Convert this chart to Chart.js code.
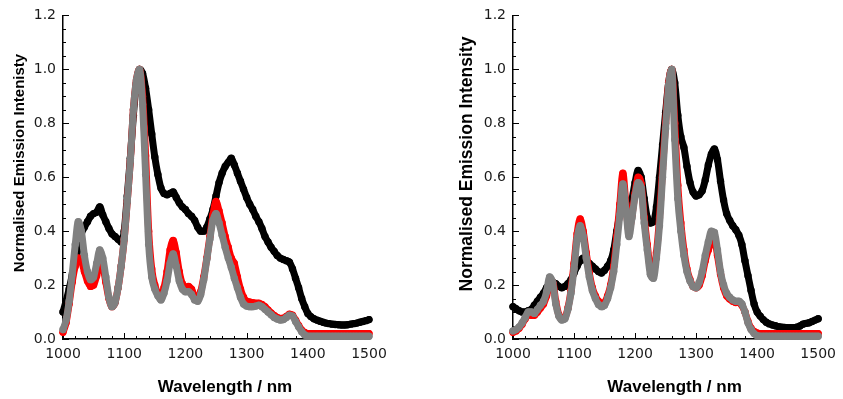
<!DOCTYPE html>
<html><head><meta charset="utf-8">
<script src="https://cdn.jsdelivr.net/npm/chart.js@4"></script>
<style>
html,body{margin:0;padding:0;background:#fff;}
#wrap{position:relative;width:843px;height:399px;overflow:hidden;background:#fff;}
canvas{position:absolute;top:0;}
</style></head><body>
<div id="wrap">
<canvas id="left" width="421" height="399" style="left:0"></canvas>
<canvas id="right" width="422" height="399" style="left:421px"></canvas>
</div>
<script>
// ---------- data ----------
const wavelengths = [1000,1005,1010,1015,1020,1025,1030,1035,1040,1045,1050,1055,1060,1065,1070,1075,1080,1085,1090,1095,
1100,1105,1110,1115,1120,1125,1130,1135,1140,1145,1150,1155,1160,1165,1170,1175,1180,1185,1190,1195,
1200,1205,1210,1215,1220,1225,1230,1235,1240,1245,1250,1255,1260,1265,1270,1275,1280,1285,1290,1295,
1300,1305,1310,1315,1320,1325,1330,1335,1340,1345,1350,1355,1360,1365,1370,1375,1380,1385,1390,1395,
1400,1405,1410,1415,1420,1425,1430,1435,1440,1445,1450,1455,1460,1465,1470,1475,1480,1485,1490,1495,1500];

// left panel
const leftBlack = [0.100,0.140,0.185,0.235,0.280,0.340,0.390,0.415,0.435,0.455,0.465,0.470,0.490,0.460,0.435,0.410,0.390,0.380,0.370,0.360,
0.400,0.530,0.670,0.830,0.950,1.000,0.985,0.930,0.850,0.760,0.675,0.610,0.560,0.540,0.535,0.540,0.545,0.525,0.505,0.490,
0.480,0.465,0.455,0.440,0.415,0.400,0.400,0.415,0.445,0.480,0.530,0.580,0.615,0.640,0.655,0.670,0.645,0.615,0.585,0.555,
0.525,0.500,0.480,0.455,0.435,0.410,0.380,0.360,0.340,0.325,0.310,0.300,0.295,0.290,0.285,0.260,0.225,0.190,0.150,0.120,
0.095,0.083,0.075,0.070,0.066,0.062,0.059,0.057,0.055,0.054,0.053,0.052,0.052,0.053,0.055,0.057,0.059,0.062,0.065,0.068,0.072];
const leftRed = [0.025,0.060,0.130,0.210,0.270,0.300,0.290,0.250,0.215,0.195,0.200,0.235,0.280,0.270,0.210,0.150,0.120,0.135,0.190,0.270,
0.370,0.510,0.660,0.850,0.960,1.000,0.900,0.680,0.400,0.260,0.200,0.170,0.160,0.190,0.250,0.330,0.365,0.320,0.250,0.205,
0.190,0.195,0.185,0.160,0.150,0.175,0.230,0.300,0.380,0.460,0.510,0.475,0.430,0.380,0.340,0.300,0.280,0.230,0.185,0.155,
0.140,0.137,0.135,0.133,0.133,0.128,0.120,0.108,0.097,0.087,0.080,0.076,0.077,0.084,0.092,0.088,0.070,0.050,0.033,0.024,
0.020,0.020,0.020,0.020,0.020,0.020,0.020,0.020,0.020,0.020,0.020,0.020,0.020,0.020,0.020,0.020,0.020,0.020,0.020,0.020,0.020];
const leftGrey = [0.035,0.070,0.140,0.240,0.350,0.435,0.400,0.310,0.250,0.220,0.230,0.280,0.330,0.300,0.230,0.155,0.120,0.135,0.190,0.270,
0.370,0.510,0.660,0.850,0.960,1.000,0.870,0.610,0.350,0.230,0.185,0.160,0.145,0.170,0.215,0.280,0.315,0.270,0.215,0.185,
0.175,0.175,0.165,0.145,0.140,0.165,0.220,0.295,0.370,0.440,0.465,0.430,0.385,0.340,0.300,0.265,0.225,0.190,0.155,0.130,
0.122,0.120,0.120,0.122,0.125,0.120,0.110,0.100,0.090,0.080,0.074,0.070,0.072,0.080,0.088,0.085,0.065,0.045,0.027,0.015,
0.010,0.010,0.010,0.010,0.010,0.010,0.010,0.010,0.010,0.010,0.010,0.010,0.010,0.010,0.010,0.010,0.010,0.010,0.010,0.010,0.010];

// right panel
const rightBlack = [0.120,0.112,0.105,0.100,0.100,0.105,0.110,0.125,0.140,0.155,0.170,0.190,0.205,0.210,0.205,0.195,0.190,0.195,0.205,0.220,
0.245,0.270,0.290,0.300,0.290,0.280,0.270,0.260,0.250,0.245,0.255,0.270,0.290,0.330,0.400,0.460,0.480,0.475,0.480,0.520,
0.580,0.625,0.600,0.520,0.450,0.430,0.435,0.490,0.600,0.720,0.840,0.950,1.000,0.950,0.830,0.750,0.710,0.640,0.580,0.545,
0.530,0.535,0.550,0.590,0.645,0.685,0.705,0.665,0.585,0.515,0.465,0.440,0.420,0.405,0.385,0.350,0.290,0.235,0.180,0.130,
0.100,0.085,0.072,0.062,0.056,0.052,0.049,0.046,0.044,0.043,0.042,0.042,0.042,0.044,0.048,0.055,0.058,0.060,0.065,0.070,0.075];
const rightRed = [0.025,0.030,0.040,0.055,0.075,0.090,0.088,0.088,0.100,0.115,0.130,0.160,0.200,0.210,0.140,0.090,0.075,0.080,0.115,0.180,
0.280,0.390,0.445,0.400,0.320,0.245,0.190,0.160,0.140,0.130,0.135,0.160,0.200,0.270,0.380,0.500,0.615,0.500,0.400,0.460,
0.540,0.600,0.575,0.450,0.350,0.260,0.250,0.320,0.450,0.630,0.800,0.950,1.000,0.800,0.570,0.430,0.330,0.260,0.220,0.195,
0.190,0.200,0.235,0.290,0.330,0.360,0.370,0.310,0.240,0.190,0.160,0.148,0.140,0.135,0.135,0.125,0.100,0.065,0.040,0.028,
0.022,0.020,0.020,0.020,0.020,0.020,0.020,0.020,0.020,0.020,0.020,0.020,0.020,0.020,0.020,0.020,0.020,0.020,0.020,0.020,0.020];
const rightGrey = [0.030,0.035,0.045,0.060,0.080,0.100,0.100,0.095,0.110,0.125,0.140,0.175,0.230,0.210,0.130,0.085,0.070,0.075,0.110,0.170,
0.260,0.370,0.420,0.380,0.300,0.230,0.180,0.150,0.128,0.120,0.125,0.150,0.190,0.250,0.350,0.460,0.575,0.480,0.380,0.450,
0.530,0.580,0.560,0.430,0.330,0.240,0.225,0.300,0.420,0.600,0.780,0.940,1.000,0.740,0.520,0.400,0.310,0.250,0.215,0.195,
0.190,0.210,0.250,0.310,0.360,0.400,0.395,0.330,0.250,0.200,0.170,0.155,0.145,0.140,0.140,0.130,0.100,0.060,0.035,0.020,
0.012,0.010,0.010,0.010,0.010,0.010,0.010,0.010,0.010,0.010,0.010,0.010,0.010,0.010,0.010,0.010,0.010,0.010,0.010,0.010,0.010];

const xTickValues = [1000,1100,1200,1300,1400,1500];
const xTickLabels = ['1000','1100','1200','1300','1400','1500'];
const yTickValues = [0,0.2,0.4,0.6,0.8,1.0,1.2];
const yTickLabels = ['0.0','0.2','0.4','0.6','0.8','1.0','1.2'];
const xAxisTitle = 'Wavelength / nm';
const yAxisTitleLeft = 'Normalised Emission Intenisty';
const yAxisTitleRight = 'Normalised Emission Intensity';

// ---------- helpers ----------
function toXY(vals){ return wavelengths.map((w,i)=>({x:w, y:vals[i]})); }

const axisDecor = {
  id: 'axisDecor',
  beforeDatasetsDraw(chart, args, o){
    const {ctx, chartArea:a, scales:{x, y}} = chart;
    ctx.save();
    ctx.strokeStyle = '#000';
    ctx.lineWidth = 1;
    ctx.beginPath();
    for (let v = 1000; v <= 1500; v += 20){
      const px = Math.round(x.getPixelForValue(v)) + 0.5;
      const len = (v % 100 === 0) ? 6 : 3;
      ctx.moveTo(px, a.bottom); ctx.lineTo(px, a.bottom - len);
    }
    for (let k = 0; k <= 24; k++){
      const v = k * 0.05;
      const py = Math.round(y.getPixelForValue(v)) + 0.5;
      const len = (k % 4 === 0) ? 6 : 3;
      ctx.moveTo(a.left, py); ctx.lineTo(a.left + len, py);
    }
    ctx.stroke();
    ctx.restore();
  },
  afterDraw(chart, args, o){
    const {ctx, chartArea:a} = chart;
    ctx.save();
    ctx.fillStyle = '#000';
    ctx.textAlign = 'center';
    ctx.textBaseline = 'middle';
    ctx.font = 'bold 17px "Liberation Sans", Arial, sans-serif';
    ctx.fillText(o.xTitle, (a.left + a.right)/2 + o.xTitleShift, o.xTitleY);
    ctx.translate(o.yTitleX, o.yTitleY);
    ctx.rotate(-Math.PI/2);
    ctx.font = 'bold ' + o.yTitleSize + 'px "Liberation Sans", Arial, sans-serif';
    ctx.fillText(o.yTitle, 0, 0);
    ctx.restore();
  }
};

function ds(label, vals, color){
  return {
    label, data: toXY(vals),
    showLine: true,
    borderColor: color, backgroundColor: color,
    borderWidth: 7, borderJoinStyle: 'round', borderCapStyle: 'round',
    pointRadius: 3.7, pointBorderWidth: 0, pointHoverRadius: 3.7,
    cubicInterpolationMode: 'monotone',
    clip: false
  };
}

function makeChart(id, black, red, grey, cfg){
  const tickFont = {family: '"DejaVu Sans", Verdana, sans-serif', size: 14};
  return new Chart(document.getElementById(id), {
    type: 'scatter',
    data: { datasets: [ ds('grey', grey, '#808080'), ds('red', red, '#ff0000'), ds('black', black, '#000000') ] },
    options: {
      responsive: false, animation: false, devicePixelRatio: 1,
      layout: { padding: { left: 0, right: cfg.padRight, top: 15, bottom: 0 } },
      plugins: {
        legend: { display: false }, tooltip: { enabled: false },
        axisDecor: cfg.decor
      },
      events: [],
      scales: {
        x: {
          type: 'linear', min: 1000, max: 1500,
          afterBuildTicks: s => { s.ticks = xTickValues.map(v => ({value: v})); },
          afterFit: s => { s.height = 60; },
          ticks: { font: tickFont, color: '#1a1a1a', padding: 7, maxRotation: 0, autoSkip: false,
                   callback: (v, i) => xTickLabels[i] },
          grid: { display: true, drawOnChartArea: false, drawTicks: false, tickLength: 0 },
          border: { display: true, color: '#000', width: 1.5 }
        },
        y: {
          type: 'linear', min: 0, max: 1.2,
          afterBuildTicks: s => { s.ticks = yTickValues.map(v => ({value: v})); },
          afterFit: s => { s.width = cfg.yWidth; },
          ticks: { font: tickFont, color: '#1a1a1a', padding: 7, autoSkip: false,
                   callback: (v, i) => yTickLabels[i] },
          grid: { display: true, drawOnChartArea: false, drawTicks: false, tickLength: 0 },
          border: { display: true, color: '#000', width: 1.5 }
        }
      }
    },
    plugins: [axisDecor]
  });
}

makeChart('left', leftBlack, leftRed, leftGrey, {
  padRight: 52, yWidth: 63,
  decor: { xTitle: xAxisTitle, xTitleShift: 9, xTitleY: 387, yTitle: yAxisTitleLeft, yTitleX: 20, yTitleY: 163, yTitleSize: 15 }
});
makeChart('right', rightBlack, rightRed, rightGrey, {
  padRight: 21, yWidth: 92,
  decor: { xTitle: xAxisTitle, xTitleShift: 9, xTitleY: 387, yTitle: yAxisTitleRight, yTitleX: 46, yTitleY: 164, yTitleSize: 17.5 }
});
</script>
</body></html>
